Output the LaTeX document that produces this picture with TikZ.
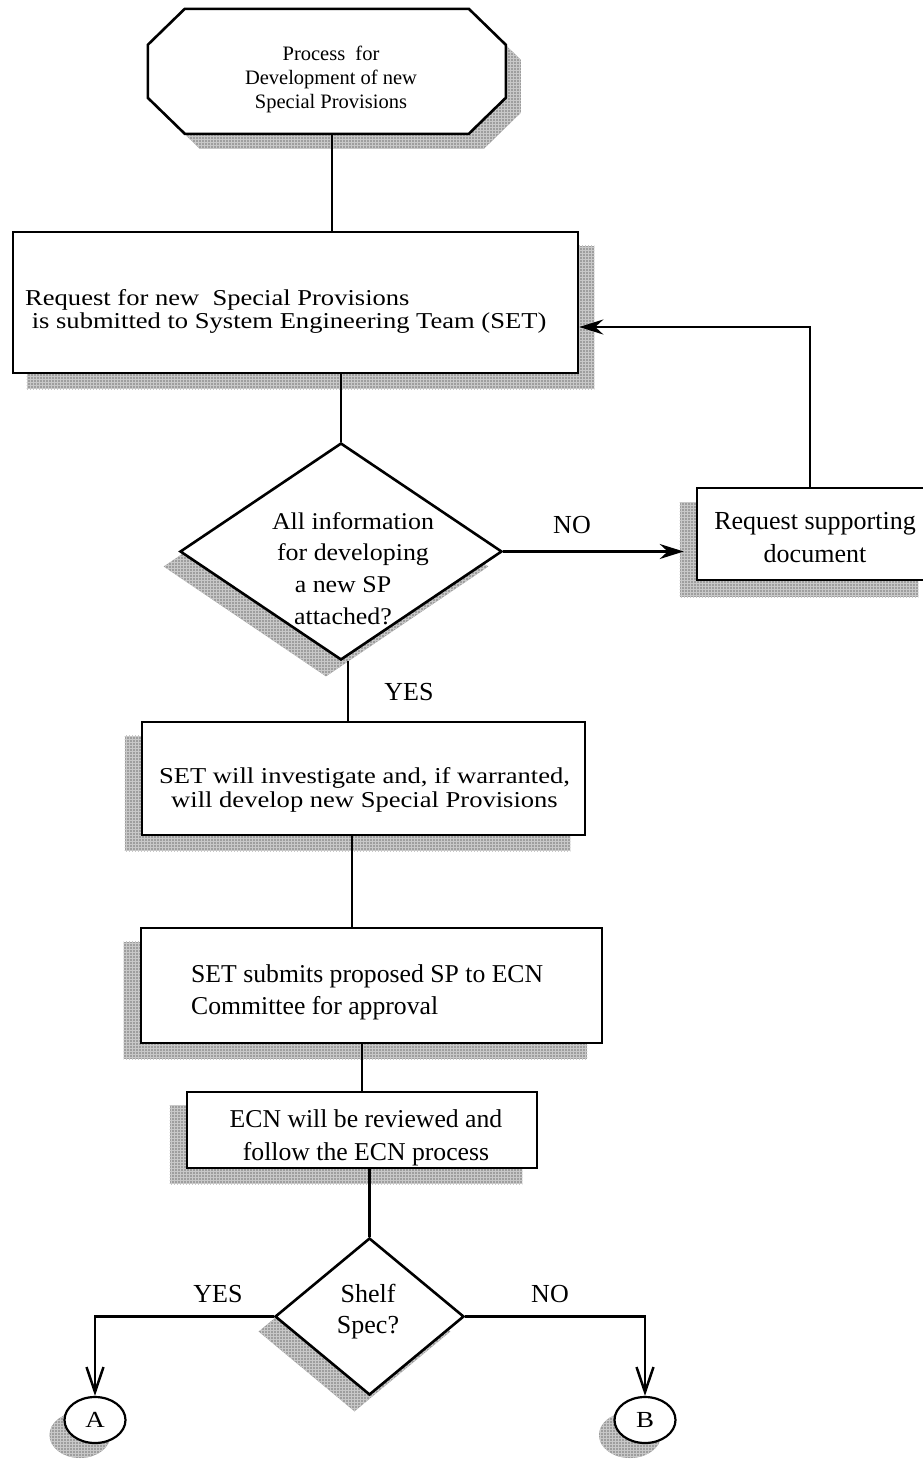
\documentclass[tikz,border=0pt]{standalone}
\usepackage{fontspec}
\setmainfont{Liberation Serif}
\newfontfamily\widerm[FakeStretch=1.17]{Liberation Serif}
\newfontfamily\semirm[FakeStretch=1.08]{Liberation Serif}
\usetikzlibrary{shapes.geometric,arrows.meta,patterns}
\definecolor{shadefill}{RGB}{158,158,158}
\definecolor{shadegrid}{RGB}{200,200,200}
\pgfdeclarelayer{shadowlayer}
\pgfdeclarelayer{outlinelayer}
\pgfsetlayers{shadowlayer,outlinelayer,main}
\begin{document}
\begin{tikzpicture}[x=1pt, y=-1pt,
  boxnode/.style={draw, line width=2.6pt, fill=white, rectangle, inner sep=0pt},
  decision/.style={draw, line width=2.6pt, fill=white, diamond, inner sep=0pt},
  terminal/.style={draw, line width=2.2pt, fill=white, ellipse, inner sep=0pt,
    minimum width=61pt, minimum height=46pt, font=\widerm\fontsize{23}{26}\selectfont},
  body/.style={inner sep=0pt, align=center},
  label/.style={inner sep=0pt, font=\fontsize{26}{30}\selectfont},
  shade/.style={fill=shadefill, postaction={pattern=grid, pattern color=shadegrid}},
  link/.style={line width=2.5pt},
  feedarrow/.style={link, -{Stealth[length=24pt, width=15pt, inset=8pt]}},
  openarrow/.style={link, -{Straight Barb[length=25pt, width=17pt]}}
]
\useasboundingbox (0,0) rectangle (923,1459);
\clip (0,0) rectangle (923,1459);

% ---------- frames ----------
\node[inner sep=0pt, minimum width=358pt, minimum height=125pt] (start) at (327,71.5) {};
\node[boxnode, minimum width=565pt, minimum height=141pt] (req) at (295.5,302.5) {};
\node[decision, minimum width=322pt, minimum height=217pt] (info) at (341,551.5) {};
\node[boxnode, minimum width=236pt, minimum height=92pt] (supp) at (815,534) {};
\node[boxnode, minimum width=443pt, minimum height=113pt] (inv) at (363.5,778.5) {};
\node[boxnode, minimum width=461pt, minimum height=115pt] (sub) at (371.5,985.5) {};
\node[boxnode, minimum width=350pt, minimum height=76pt] (ecn) at (362,1130) {};
\node[decision, minimum width=189pt, minimum height=157pt] (shelf) at (369.5,1316.5) {};
\node[terminal] (A) at (95,1420) {A};
\node[terminal] (B) at (645,1420) {B};

% ---------- octagon outline of the start node ----------
\begin{pgfonlayer}{outlinelayer}
\draw[line width=2.6pt, fill=white]
  ([shift={(37,0)}]start.north west) -- ([shift={(321,0)}]start.north west)
  -- ([shift={(358,36)}]start.north west) -- ([shift={(358,89)}]start.north west)
  -- ([shift={(321,125)}]start.north west) -- ([shift={(37,125)}]start.north west)
  -- ([shift={(0,89)}]start.north west) -- ([shift={(0,36)}]start.north west) -- cycle;
\end{pgfonlayer}

% ---------- texts ----------
\node[body, font=\fontsize{20.5}{24}\selectfont] (starttext) at (331,79.5)
  {Process\ \ for\\Development of new\\Special Provisions};
\node[body, align=left, anchor=west, font=\widerm\fontsize{22.7}{23}\selectfont] (reqtext) at (25,311.2)
  {Request for new\ \ Special Provisions\\\ is submitted to System Engineering Team (SET)};
\node[body, font=\semirm\fontsize{24}{31.7}\selectfont] (infotext) at (343,568.3)
  {\hspace*{20pt}All information\\\hspace*{20pt}for developing\\a new SP\\attached?};
\node[body, font=\fontsize{26}{33}\selectfont] (supptext) at (815,537.9)
  {Request supporting\\document};
\node[body, font=\widerm\fontsize{22.7}{24}\selectfont] (invtext) at (364.5,789.7)
  {SET will investigate and, if warranted,\\will develop new Special Provisions};
\node[body, align=left, anchor=west, font=\fontsize{25.7}{32}\selectfont] (subtext) at (191,992)
  {SET submits proposed SP to ECN\\Committee for approval};
\node[body, font=\fontsize{25.7}{33}\selectfont] (ecntext) at (366,1137.5)
  {ECN will be reviewed and\\follow the ECN process};
\node[body, font=\fontsize{26}{31}\selectfont] (shelftext) at (368,1311.4)
  {Shelf\\Spec?};
\node[label, anchor=base] (no1) at (572,533) {NO};
\node[label, anchor=base] (yes1) at (409,700) {YES};
\node[label, anchor=base] (yes2) at (218,1302) {YES};
\node[label, anchor=base] (no2) at (550,1302) {NO};

% ---------- connectors ----------
\draw[link] ([xshift=5pt]start.south) -- ([xshift=5pt]start.south |- req.north);
\draw[link] (info.north |- req.south) -- (info.north);
\draw[feedarrow, shorten >=12pt] (info.east) -- (info.east -| supp.west);
\coordinate (fbturn) at (810,327);
\draw[feedarrow] (fbturn |- supp.north) -- (fbturn) -- (fbturn -| req.east);
\draw[link] ([xshift=7pt]info.south) -- ([xshift=7pt]info.south |- inv.north);
\draw[link] ([xshift=-11.5pt]inv.south) -- ([xshift=-11.5pt]inv.south |- sub.north);
\draw[link] (ecn.north |- sub.south) -- (ecn.north);
\draw[link] (shelf.north |- ecn.south) -- (shelf.north);
\draw[openarrow] (shelf.west) -| (A.north);
\draw[openarrow] (shelf.east) -| (B.north);

% ---------- drop shadows ----------
\begin{pgfonlayer}{shadowlayer}
\fill[shade]
  ([shift={(52,15)}]start.north west) -- ([shift={(336,15)}]start.north west)
  -- ([shift={(373,51)}]start.north west) -- ([shift={(373,104)}]start.north west)
  -- ([shift={(336,140)}]start.north west) -- ([shift={(52,140)}]start.north west)
  -- ([shift={(15,104)}]start.north west) -- ([shift={(15,51)}]start.north west) -- cycle;
\fill[shade] ([shift={(15,15)}]req.north west) rectangle ([shift={(15,15)}]req.south east);
\fill[shade] ([shift={(-15,15)}]info.north) -- ([shift={(-15,15)}]info.east)
  -- ([shift={(-15,15)}]info.south) -- ([shift={(-15,15)}]info.west) -- cycle;
\fill[shade] ([shift={(-16,16)}]supp.north west) rectangle ([shift={(-16,16)}]supp.south east);
\fill[shade] ([shift={(-16,15)}]inv.north west) rectangle ([shift={(-16,15)}]inv.south east);
\fill[shade] ([shift={(-16,15)}]sub.north west) rectangle ([shift={(-16,15)}]sub.south east);
\fill[shade] ([shift={(-16,15)}]ecn.north west) rectangle ([shift={(-16,15)}]ecn.south east);
\fill[shade] ([shift={(-15,15)}]shelf.north) -- ([shift={(-15,15)}]shelf.east)
  -- ([shift={(-15,15)}]shelf.south) -- ([shift={(-15,15)}]shelf.west) -- cycle;
\fill[shade] ([shift={(-15,15)}]A.center) ellipse [x radius=30.5, y radius=23];
\fill[shade] ([shift={(-15,15)}]B.center) ellipse [x radius=31, y radius=23];
\end{pgfonlayer}
\end{tikzpicture}
\end{document}
